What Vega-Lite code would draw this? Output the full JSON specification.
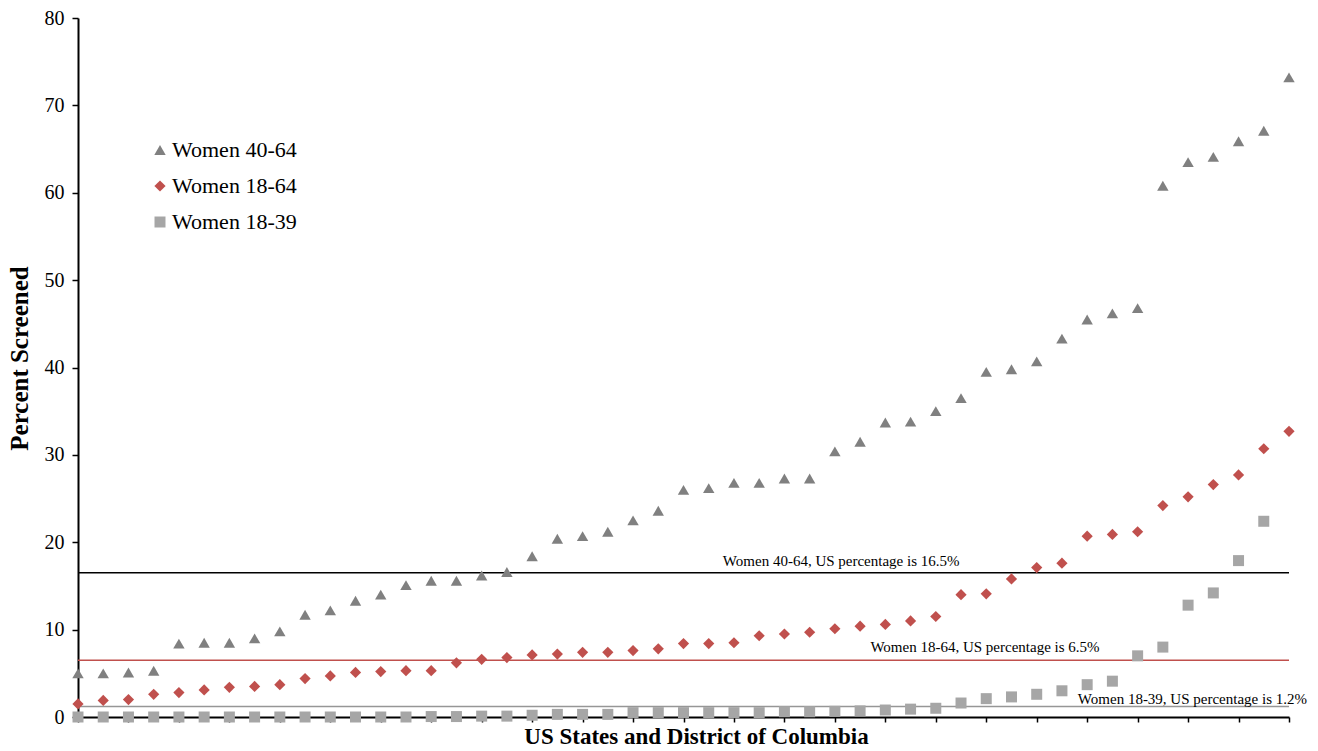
{
  "$schema": "https://vega.github.io/schema/vega-lite/v6.json",
  "autosize": "none",
  "width": 1211,
  "height": 699,
  "padding": {"left": 78, "top": 18, "right": 29, "bottom": 34},
  "background": "white",
  "config": {
    "font": "Liberation Serif",
    "view": {"stroke": null},
    "axis": {"grid": false, "domainColor": "black", "tickColor": "black", "labelColor": "black", "titleColor": "black", "labelFont": "Liberation Serif", "titleFont": "Liberation Serif"}
  },
  "datasets": {
    "pts": [
      {"state": 1, "series": "Women 40-64", "pct": 5.0},
      {"state": 2, "series": "Women 40-64", "pct": 5.0},
      {"state": 3, "series": "Women 40-64", "pct": 5.1},
      {"state": 4, "series": "Women 40-64", "pct": 5.3},
      {"state": 5, "series": "Women 40-64", "pct": 8.4},
      {"state": 6, "series": "Women 40-64", "pct": 8.5},
      {"state": 7, "series": "Women 40-64", "pct": 8.5},
      {"state": 8, "series": "Women 40-64", "pct": 9.0},
      {"state": 9, "series": "Women 40-64", "pct": 9.8},
      {"state": 10, "series": "Women 40-64", "pct": 11.7},
      {"state": 11, "series": "Women 40-64", "pct": 12.2},
      {"state": 12, "series": "Women 40-64", "pct": 13.3},
      {"state": 13, "series": "Women 40-64", "pct": 14.0},
      {"state": 14, "series": "Women 40-64", "pct": 15.1},
      {"state": 15, "series": "Women 40-64", "pct": 15.6},
      {"state": 16, "series": "Women 40-64", "pct": 15.6},
      {"state": 17, "series": "Women 40-64", "pct": 16.2},
      {"state": 18, "series": "Women 40-64", "pct": 16.6},
      {"state": 19, "series": "Women 40-64", "pct": 18.4},
      {"state": 20, "series": "Women 40-64", "pct": 20.4},
      {"state": 21, "series": "Women 40-64", "pct": 20.7},
      {"state": 22, "series": "Women 40-64", "pct": 21.2},
      {"state": 23, "series": "Women 40-64", "pct": 22.5},
      {"state": 24, "series": "Women 40-64", "pct": 23.6},
      {"state": 25, "series": "Women 40-64", "pct": 26.0},
      {"state": 26, "series": "Women 40-64", "pct": 26.2},
      {"state": 27, "series": "Women 40-64", "pct": 26.8},
      {"state": 28, "series": "Women 40-64", "pct": 26.8},
      {"state": 29, "series": "Women 40-64", "pct": 27.3},
      {"state": 30, "series": "Women 40-64", "pct": 27.3},
      {"state": 31, "series": "Women 40-64", "pct": 30.4},
      {"state": 32, "series": "Women 40-64", "pct": 31.5},
      {"state": 33, "series": "Women 40-64", "pct": 33.7},
      {"state": 34, "series": "Women 40-64", "pct": 33.8},
      {"state": 35, "series": "Women 40-64", "pct": 35.0},
      {"state": 36, "series": "Women 40-64", "pct": 36.5},
      {"state": 37, "series": "Women 40-64", "pct": 39.5},
      {"state": 38, "series": "Women 40-64", "pct": 39.8},
      {"state": 39, "series": "Women 40-64", "pct": 40.7},
      {"state": 40, "series": "Women 40-64", "pct": 43.3},
      {"state": 41, "series": "Women 40-64", "pct": 45.5},
      {"state": 42, "series": "Women 40-64", "pct": 46.2},
      {"state": 43, "series": "Women 40-64", "pct": 46.8},
      {"state": 44, "series": "Women 40-64", "pct": 60.8},
      {"state": 45, "series": "Women 40-64", "pct": 63.5},
      {"state": 46, "series": "Women 40-64", "pct": 64.1},
      {"state": 47, "series": "Women 40-64", "pct": 65.9},
      {"state": 48, "series": "Women 40-64", "pct": 67.1},
      {"state": 49, "series": "Women 40-64", "pct": 73.2},
      {"state": 1, "series": "Women 18-64", "pct": 1.5},
      {"state": 2, "series": "Women 18-64", "pct": 1.9},
      {"state": 3, "series": "Women 18-64", "pct": 2.0},
      {"state": 4, "series": "Women 18-64", "pct": 2.6},
      {"state": 5, "series": "Women 18-64", "pct": 2.8},
      {"state": 6, "series": "Women 18-64", "pct": 3.1},
      {"state": 7, "series": "Women 18-64", "pct": 3.4},
      {"state": 8, "series": "Women 18-64", "pct": 3.5},
      {"state": 9, "series": "Women 18-64", "pct": 3.7},
      {"state": 10, "series": "Women 18-64", "pct": 4.4},
      {"state": 11, "series": "Women 18-64", "pct": 4.7},
      {"state": 12, "series": "Women 18-64", "pct": 5.1},
      {"state": 13, "series": "Women 18-64", "pct": 5.2},
      {"state": 14, "series": "Women 18-64", "pct": 5.3},
      {"state": 15, "series": "Women 18-64", "pct": 5.3},
      {"state": 16, "series": "Women 18-64", "pct": 6.2},
      {"state": 17, "series": "Women 18-64", "pct": 6.6},
      {"state": 18, "series": "Women 18-64", "pct": 6.8},
      {"state": 19, "series": "Women 18-64", "pct": 7.1},
      {"state": 20, "series": "Women 18-64", "pct": 7.2},
      {"state": 21, "series": "Women 18-64", "pct": 7.4},
      {"state": 22, "series": "Women 18-64", "pct": 7.4},
      {"state": 23, "series": "Women 18-64", "pct": 7.6},
      {"state": 24, "series": "Women 18-64", "pct": 7.8},
      {"state": 25, "series": "Women 18-64", "pct": 8.4},
      {"state": 26, "series": "Women 18-64", "pct": 8.4},
      {"state": 27, "series": "Women 18-64", "pct": 8.5},
      {"state": 28, "series": "Women 18-64", "pct": 9.3},
      {"state": 29, "series": "Women 18-64", "pct": 9.5},
      {"state": 30, "series": "Women 18-64", "pct": 9.7},
      {"state": 31, "series": "Women 18-64", "pct": 10.1},
      {"state": 32, "series": "Women 18-64", "pct": 10.4},
      {"state": 33, "series": "Women 18-64", "pct": 10.6},
      {"state": 34, "series": "Women 18-64", "pct": 11.0},
      {"state": 35, "series": "Women 18-64", "pct": 11.5},
      {"state": 36, "series": "Women 18-64", "pct": 14.0},
      {"state": 37, "series": "Women 18-64", "pct": 14.1},
      {"state": 38, "series": "Women 18-64", "pct": 15.8},
      {"state": 39, "series": "Women 18-64", "pct": 17.1},
      {"state": 40, "series": "Women 18-64", "pct": 17.6},
      {"state": 41, "series": "Women 18-64", "pct": 20.7},
      {"state": 42, "series": "Women 18-64", "pct": 20.9},
      {"state": 43, "series": "Women 18-64", "pct": 21.2},
      {"state": 44, "series": "Women 18-64", "pct": 24.2},
      {"state": 45, "series": "Women 18-64", "pct": 25.2},
      {"state": 46, "series": "Women 18-64", "pct": 26.6},
      {"state": 47, "series": "Women 18-64", "pct": 27.7},
      {"state": 48, "series": "Women 18-64", "pct": 30.7},
      {"state": 49, "series": "Women 18-64", "pct": 32.7},
      {"state": 1, "series": "Women 18-39", "pct": 0.0},
      {"state": 2, "series": "Women 18-39", "pct": 0.0},
      {"state": 3, "series": "Women 18-39", "pct": 0.0},
      {"state": 4, "series": "Women 18-39", "pct": 0.0},
      {"state": 5, "series": "Women 18-39", "pct": 0.0},
      {"state": 6, "series": "Women 18-39", "pct": 0.0},
      {"state": 7, "series": "Women 18-39", "pct": 0.0},
      {"state": 8, "series": "Women 18-39", "pct": 0.0},
      {"state": 9, "series": "Women 18-39", "pct": 0.0},
      {"state": 10, "series": "Women 18-39", "pct": 0.0},
      {"state": 11, "series": "Women 18-39", "pct": 0.0},
      {"state": 12, "series": "Women 18-39", "pct": 0.0},
      {"state": 13, "series": "Women 18-39", "pct": 0.0},
      {"state": 14, "series": "Women 18-39", "pct": 0.0},
      {"state": 15, "series": "Women 18-39", "pct": 0.05},
      {"state": 16, "series": "Women 18-39", "pct": 0.05},
      {"state": 17, "series": "Women 18-39", "pct": 0.1},
      {"state": 18, "series": "Women 18-39", "pct": 0.1},
      {"state": 19, "series": "Women 18-39", "pct": 0.2},
      {"state": 20, "series": "Women 18-39", "pct": 0.3},
      {"state": 21, "series": "Women 18-39", "pct": 0.3},
      {"state": 22, "series": "Women 18-39", "pct": 0.3},
      {"state": 23, "series": "Women 18-39", "pct": 0.5},
      {"state": 24, "series": "Women 18-39", "pct": 0.5},
      {"state": 25, "series": "Women 18-39", "pct": 0.5},
      {"state": 26, "series": "Women 18-39", "pct": 0.5},
      {"state": 27, "series": "Women 18-39", "pct": 0.5},
      {"state": 28, "series": "Women 18-39", "pct": 0.5},
      {"state": 29, "series": "Women 18-39", "pct": 0.6},
      {"state": 30, "series": "Women 18-39", "pct": 0.6},
      {"state": 31, "series": "Women 18-39", "pct": 0.65},
      {"state": 32, "series": "Women 18-39", "pct": 0.7},
      {"state": 33, "series": "Women 18-39", "pct": 0.8},
      {"state": 34, "series": "Women 18-39", "pct": 0.9},
      {"state": 35, "series": "Women 18-39", "pct": 1.0},
      {"state": 36, "series": "Women 18-39", "pct": 1.6},
      {"state": 37, "series": "Women 18-39", "pct": 2.1},
      {"state": 38, "series": "Women 18-39", "pct": 2.3},
      {"state": 39, "series": "Women 18-39", "pct": 2.6},
      {"state": 40, "series": "Women 18-39", "pct": 3.0},
      {"state": 41, "series": "Women 18-39", "pct": 3.7},
      {"state": 42, "series": "Women 18-39", "pct": 4.1},
      {"state": 43, "series": "Women 18-39", "pct": 7.0},
      {"state": 44, "series": "Women 18-39", "pct": 8.0},
      {"state": 45, "series": "Women 18-39", "pct": 12.8},
      {"state": 46, "series": "Women 18-39", "pct": 14.2},
      {"state": 47, "series": "Women 18-39", "pct": 17.9},
      {"state": 48, "series": "Women 18-39", "pct": 22.4}
    ]
  },
  "layer": [
    {
      "data": {"values": [{"us": 16.5, "label": "Women 40-64, US percentage is 16.5%"}]},
      "layer": [
        {"mark": {"type": "rule", "color": "black", "strokeWidth": 1.5}, "encoding": {"y": {"field": "us", "type": "quantitative"}}},
        {"mark": {"type": "text", "font": "Liberation Serif", "fontSize": 15, "align": "center", "baseline": "bottom", "dy": -4, "color": "black"},
         "encoding": {"x": {"datum": 31.25, "type": "quantitative"}, "y": {"field": "us", "type": "quantitative"}, "text": {"field": "label"}}}
      ]
    },
    {
      "data": {"values": [{"us": 6.5, "label": "Women 18-64, US percentage is 6.5%"}]},
      "layer": [
        {"mark": {"type": "rule", "color": "#c0504d", "strokeWidth": 1.5}, "encoding": {"y": {"field": "us", "type": "quantitative"}}},
        {"mark": {"type": "text", "font": "Liberation Serif", "fontSize": 15, "align": "center", "baseline": "bottom", "dy": -5, "color": "black"},
         "encoding": {"x": {"datum": 36.95, "type": "quantitative"}, "y": {"field": "us", "type": "quantitative"}, "text": {"field": "label"}}}
      ]
    },
    {
      "data": {"values": [{"us": 1.2, "label": "Women 18-39, US percentage is 1.2%"}]},
      "layer": [
        {"mark": {"type": "rule", "color": "#969696", "strokeWidth": 1.5}, "encoding": {"y": {"field": "us", "type": "quantitative"}}},
        {"mark": {"type": "text", "font": "Liberation Serif", "fontSize": 15, "align": "right", "baseline": "bottom", "dy": 0, "dx": 18, "color": "black"},
         "encoding": {"x": {"datum": 49, "type": "quantitative"}, "y": {"field": "us", "type": "quantitative"}, "text": {"field": "label"}}}
      ]
    },
    {
      "data": {"name": "pts"},
      "mark": {"type": "point", "filled": true, "opacity": 1, "size": 120},
      "encoding": {
        "x": {
          "field": "state", "type": "quantitative",
          "scale": {"domain": [1, 49], "nice": false, "zero": false},
          "axis": {"values": [1,2,3,4,5,6,7,8,9,10,11,12,13,14,15,16,17,18,19,20,21,22,23,24,25,26,27,28,29,30,31,32,33,34,35,36,37,38,39,40,41,42,43,44,45,46,47,48,49],
                   "labels": false, "tickSize": 5, "tickWidth": 1.5, "domainWidth": 2,
                   "title": "US States and District of Columbia", "titleFontSize": 23, "titleFontWeight": "bold", "titlePadding": 3, "titleX": 618}
        },
        "y": {
          "field": "pct", "type": "quantitative",
          "scale": {"domain": [0, 80], "nice": false},
          "axis": {"values": [0,10,20,30,40,50,60,70,80], "labelFontSize": 20, "tickSize": 6, "tickWidth": 1.5, "domainWidth": 2, "labelPadding": 8,
                   "title": "Percent Screened", "titleFontSize": 25, "titleFontWeight": "bold", "titlePadding": 12, "titleY": 340}
        },
        "shape": {
          "field": "series", "type": "nominal",
          "scale": {"domain": ["Women 40-64", "Women 18-64", "Women 18-39"], "range": ["triangle-up", "diamond", "square"]}
        },
        "color": {
          "field": "series", "type": "nominal",
          "scale": {"domain": ["Women 40-64", "Women 18-64", "Women 18-39"], "range": ["#808080", "#c0504d", "#a6a6a6"]},
          "legend": {"orient": "none", "legendX": 71, "legendY": 121, "title": null, "labelFont": "Liberation Serif", "labelFontSize": 22, "labelColor": "black", "symbolSize": 120, "rowPadding": 14, "labelOffset": 1}
        },
        "size": {
          "field": "series", "type": "nominal",
          "scale": {"domain": ["Women 40-64", "Women 18-64", "Women 18-39"], "range": [130, 121, 81]},
          "legend": null
        }
      }
    }
  ]
}
